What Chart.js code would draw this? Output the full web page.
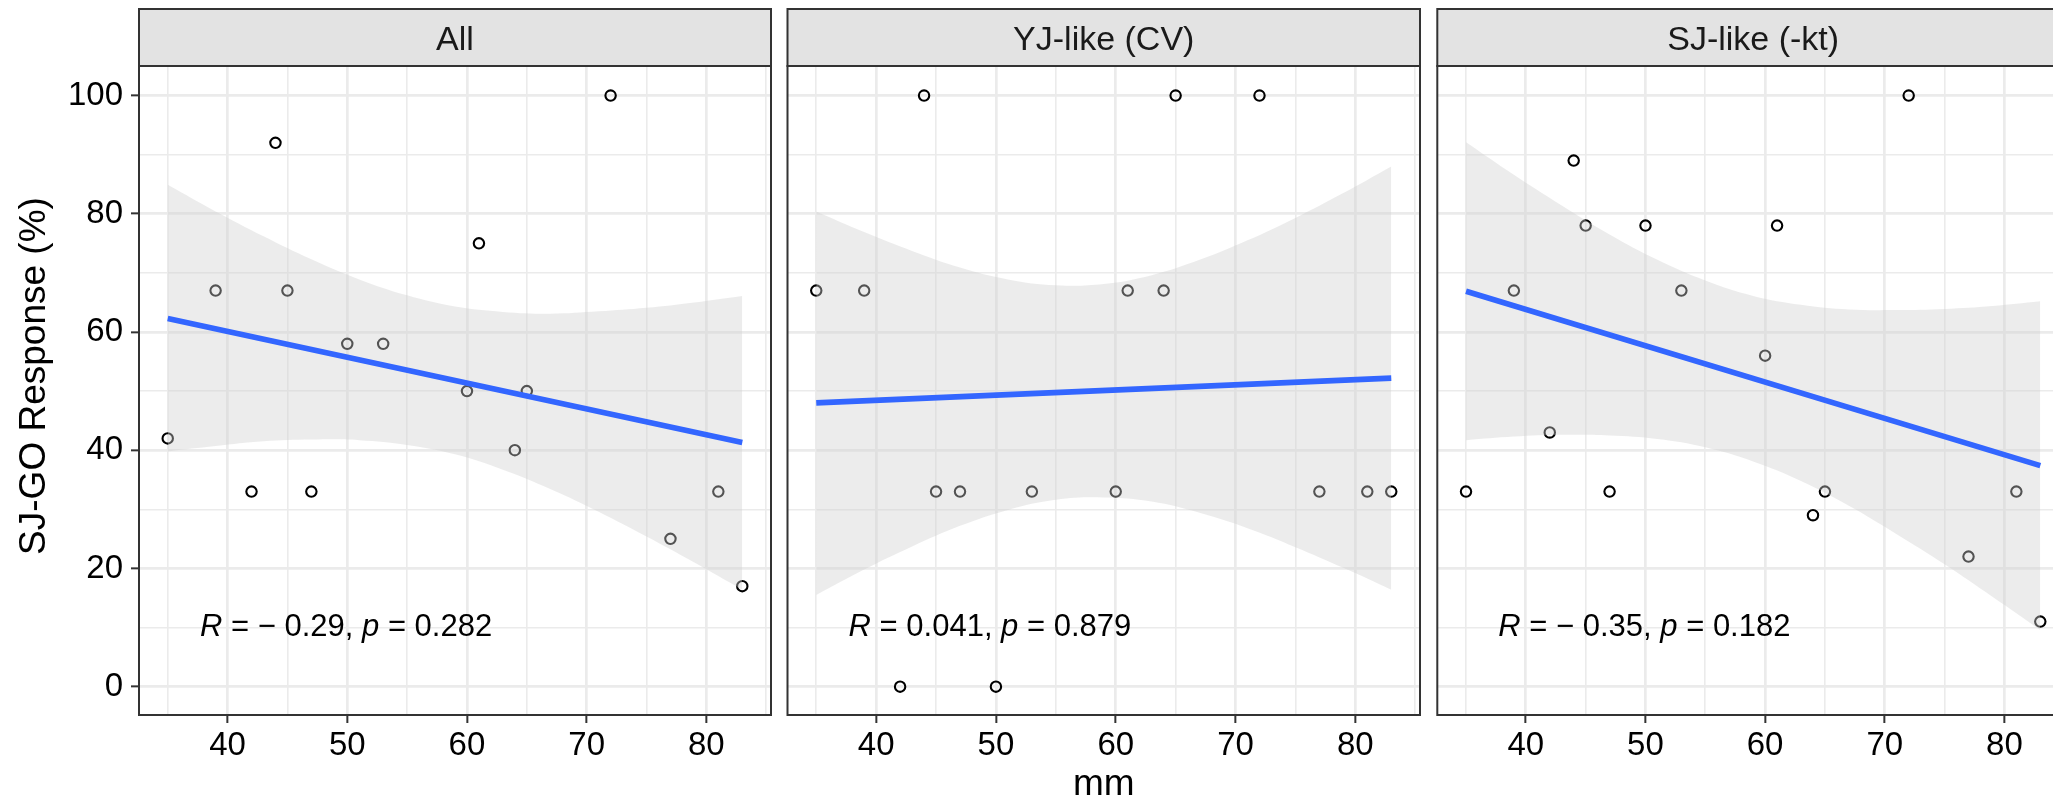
<!DOCTYPE html>
<html>
<head>
<meta charset="utf-8">
<script src="https://cdn.jsdelivr.net/npm/chart.js@4.4.1/dist/chart.umd.min.js"></script>
<style>
  html, body { margin: 0; padding: 0; background: #fff; overflow: hidden; }
  #wrap { position: relative; width: 2053px; height: 803px; overflow: hidden; }
  .panel { position: absolute; top: 0; }
</style>
</head>
<body>
<div id="wrap">
  <canvas id="p1" class="panel" width="780" height="803" style="left:0px"></canvas>
  <canvas id="p2" class="panel" width="650" height="803" style="left:780px"></canvas>
  <canvas id="p3" class="panel" width="650" height="803" style="left:1430px"></canvas>
</div>
<script>
// mm (x) is the same for every facet
const mm = [35, 39, 42, 44, 45, 47, 50, 53, 60, 61, 64, 65, 72, 77, 81, 83];
const panelNames = ['All', 'YJ-like (CV)', 'SJ-like (-kt)'];

// SJ-GO response (%) per facet
const respAll = [42, 67, 33, 92, 67, 33, 58, 58, 50, 75, 40, 50, 100, 25, 33, 17];
const respYJ  = [67, 67, 0, 100, 33, 33, 0, 33, 33, 67, 67, 100, 100, 33, 33, 33];
const respSJ  = [33, 67, 43, 89, 78, 33, 78, 67, 56, 78, 29, 33, 100, 22, 33, 11];

// regression line ends
const fitX = [35, 83];
const fitAll = [62.3, 41.3];
const fitYJ  = [48.0, 52.2];
const fitSJ  = [66.9, 37.4];

// 95% band edges
const bandX = [35, 39, 43, 47, 51, 55, 59, 63, 67, 71, 75, 79, 83];
const bandAllHi = [84.9, 80.4, 76.2, 72.3, 68.9, 66.2, 64.3, 63.4, 63.1, 63.5, 64.1, 65.0, 66.1];
const bandAllLo = [39.8, 40.7, 41.5, 41.8, 41.7, 40.9, 39.3, 36.7, 33.4, 29.6, 25.4, 21.0, 16.4];
const bandYJHi  = [80.4, 76.9, 73.7, 70.9, 68.9, 67.9, 68.1, 69.6, 72.2, 75.5, 79.3, 83.5, 88.0];
const bandYJLo  = [15.5, 19.8, 23.7, 27.2, 29.9, 31.6, 32.0, 31.3, 29.4, 26.8, 23.6, 20.1, 16.4];
const bandSJHi  = [92.1, 86.6, 81.4, 76.5, 72.2, 68.7, 66.1, 64.6, 63.8, 63.7, 63.9, 64.4, 65.2];
const bandSJLo  = [41.7, 42.3, 42.6, 42.5, 41.9, 40.5, 38.1, 34.8, 30.6, 25.8, 20.7, 15.2, 9.6];

// correlation labels
const rText = ['\u22120.29', '0.041', '\u22120.35'];
const pText = ['0.282', '0.879', '0.182'];

// tick labels
const xTickLabels = [40, 50, 60, 70, 80];
const yTickLabels = [0, 20, 40, 60, 80, 100];

Chart.defaults.font.family = '"Liberation Sans", Arial, sans-serif';
Chart.defaults.color = '#000';

const FONT = '"Liberation Sans", Arial, sans-serif';

// strip, panel border, R/p label and the shared y title
const facetPlugin = {
  id: 'facet',
  afterDatasetsDraw(chart, args, opts) {
    const { ctx, chartArea: a, scales } = chart;
    ctx.save();

    let x = scales.x.getPixelForValue(37.7);
    const y = scales.y.getPixelForValue(8.6);
    ctx.fillStyle = '#000';
    ctx.textAlign = 'left';
    ctx.textBaseline = 'alphabetic';
    const r = opts.r.replace('\u2212', '\u2212 ');
    const parts = [['R', true], [' = ' + r + ', ', false], ['p', true], [' = ' + opts.p, false]];
    parts.forEach(([t, it]) => {
      ctx.font = (it ? 'italic ' : '') + '31px ' + FONT;
      ctx.fillText(t, x, y);
      x += ctx.measureText(t).width;
    });

    ctx.strokeStyle = '#333';
    ctx.lineWidth = 2;
    ctx.strokeRect(a.left, a.top, a.right - a.left, a.bottom - a.top);

    ctx.fillStyle = '#e3e3e3';
    ctx.fillRect(a.left, 9, a.right - a.left, a.top - 9);
    ctx.strokeRect(a.left, 9, a.right - a.left, a.top - 9);
    ctx.fillStyle = '#1a1a1a';
    ctx.font = '34px ' + FONT;
    ctx.textAlign = 'center';
    ctx.fillText(opts.name, (a.left + a.right) / 2, 50);

    if (opts.yTitle) {
      ctx.translate(35, 376);
      ctx.rotate(-Math.PI / 2);
      ctx.fillStyle = '#000';
      ctx.font = '37px ' + FONT;
      ctx.textAlign = 'center';
      ctx.textBaseline = 'middle';
      ctx.fillText(opts.yTitle, 0, 0);
    }
    ctx.restore();
  }
};

function makeChart(canvasId, name, resp, fit, hi, lo, r, p, opt) {
  const pts = mm.map((v, i) => ({ x: v, y: resp[i] }));
  const hiPts = bandX.map((v, i) => ({ x: v, y: hi[i] }));
  const loPts = bandX.map((v, i) => ({ x: v, y: lo[i] }));
  const fitPts = fitX.map((v, i) => ({ x: v, y: fit[i] }));

  return new Chart(document.getElementById(canvasId), {
    type: 'scatter',
    data: {
      datasets: [
        { data: pts, order: 3, pointRadius: 5.2, pointBorderWidth: 2.1,
          pointBorderColor: '#000', pointBackgroundColor: 'rgba(0,0,0,0)' },
        { data: loPts, order: 2, showLine: true, pointRadius: 0, tension: 0.4,
          borderColor: 'rgba(0,0,0,0)', fill: false },
        { data: hiPts, order: 1, showLine: true, pointRadius: 0, tension: 0.4,
          borderColor: 'rgba(0,0,0,0)', fill: '-1', backgroundColor: 'rgba(208,208,208,0.4)' },
        { data: fitPts, order: 0, showLine: true, pointRadius: 0,
          borderColor: '#3366FF', borderWidth: 5.6 }
      ]
    },
    options: {
      responsive: false,
      animation: false,
      devicePixelRatio: 1,
      events: [],
      layout: { padding: { left: opt.padLeft, right: opt.padRight, top: 66, bottom: 0 } },
      plugins: {
        legend: { display: false },
        tooltip: { enabled: false },
        facet: { name, r, p, yTitle: opt.yLabels ? 'SJ-GO Response (%)' : '' }
      },
      scales: {
        x: {
          type: 'linear', min: 32.6, max: 85.4,
          afterFit: s => { s.height = 88; },
          border: { display: false },
          grid: {
            color: '#ebebeb',
            lineWidth: c => xTickLabels.includes(c.tick.value) ? 2.7 : 1.6,
            drawTicks: true, tickLength: 8, tickWidth: 2,
            tickColor: c => xTickLabels.includes(c.tick.value) ? '#333' : 'rgba(0,0,0,0)'
          },
          ticks: {
            stepSize: 5, includeBounds: false, autoSkip: false, maxRotation: 0, minRotation: 0,
            padding: 3, color: '#000', font: { size: 33 },
            callback: v => xTickLabels.includes(v) ? String(v) : ''
          },
          title: { display: opt.xTitle, text: 'mm', color: '#000',
                   font: { size: 37, lineHeight: 1 }, padding: 0 }
        },
        y: {
          type: 'linear', min: -4.8, max: 105,
          afterFit: s => { s.width = opt.yWidth; },
          border: { display: false },
          grid: {
            color: '#ebebeb',
            lineWidth: c => yTickLabels.includes(c.tick.value) ? 2.7 : 1.6,
            drawTicks: opt.yLabels, tickLength: 8, tickWidth: 2,
            tickColor: c => yTickLabels.includes(c.tick.value) ? '#333' : 'rgba(0,0,0,0)'
          },
          ticks: {
            display: opt.yLabels,
            stepSize: 10, includeBounds: false, autoSkip: false,
            padding: 8, color: '#000', font: { size: 33 },
            callback: v => yTickLabels.includes(v) ? String(v) : ''
          }
        }
      }
    },
    plugins: [facetPlugin]
  });
}

makeChart('p1', panelNames[0], respAll, fitAll, bandAllHi, bandAllLo, rText[0], pText[0],
  { padLeft: 0, padRight: 9, yWidth: 139, yLabels: true, xTitle: false });
makeChart('p2', panelNames[1], respYJ, fitYJ, bandYJHi, bandYJLo, rText[1], pText[1],
  { padLeft: 7.5, padRight: 10, yWidth: 0, yLabels: false, xTitle: true });
makeChart('p3', panelNames[2], respSJ, fitSJ, bandSJHi, bandSJLo, rText[2], pText[2],
  { padLeft: 6.6, padRight: 11, yWidth: 0, yLabels: false, xTitle: false });
</script>
</body>
</html>
